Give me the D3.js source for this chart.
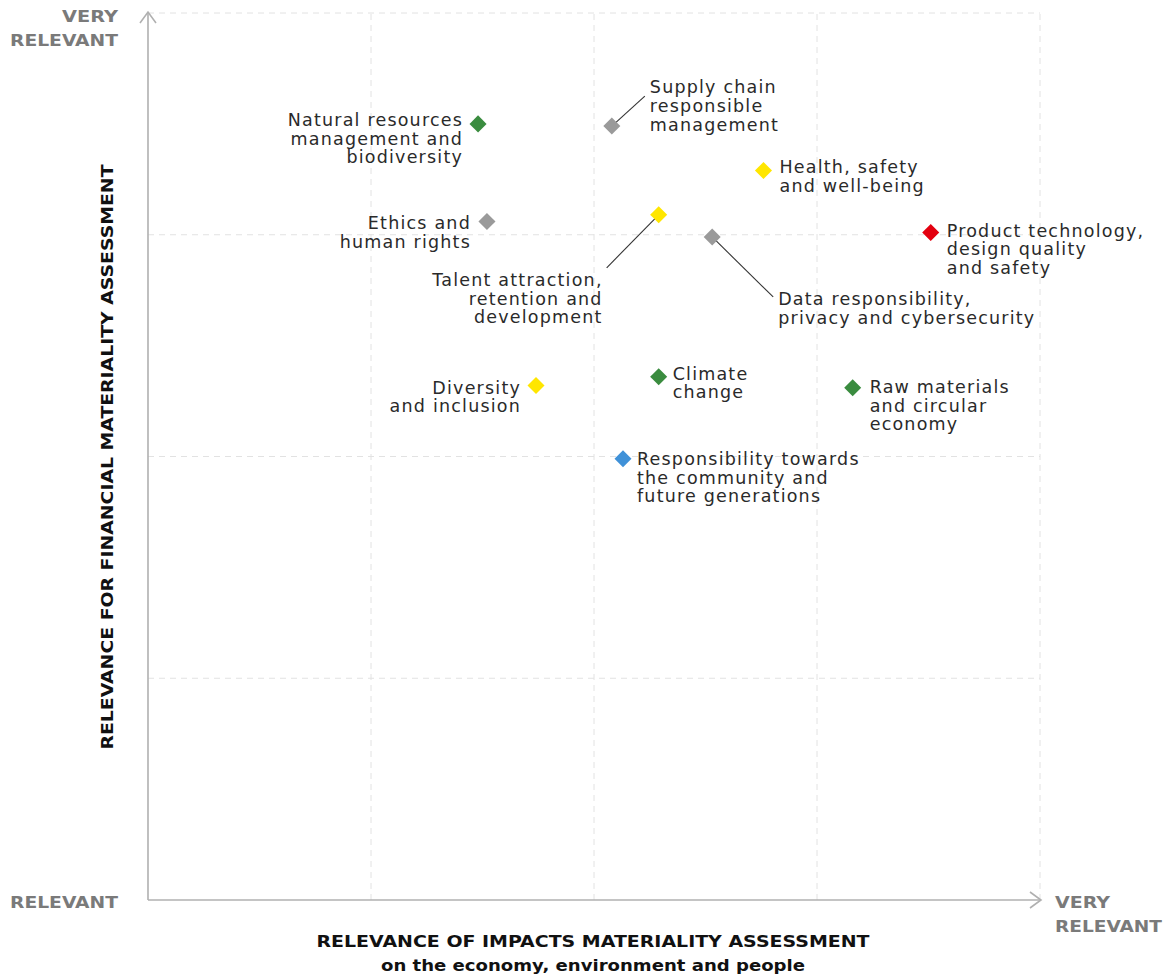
<!DOCTYPE html>
<html>
<head>
<meta charset="utf-8">
<script src="https://cdn.jsdelivr.net/npm/d3@7"></script>
<style>
  html, body { margin: 0; padding: 0; background: #fff; }
  svg { display: block; }
</style>
</head>
<body>
<svg id="chart" width="1167" height="977"></svg>
<script>
// ---- Data ----
const topics = [
  "Natural resources management and biodiversity",
  "Supply chain responsible management",
  "Health, safety and well-being",
  "Ethics and human rights",
  "Talent attraction, retention and development",
  "Data responsibility, privacy and cybersecurity",
  "Product technology, design quality and safety",
  "Diversity and inclusion",
  "Climate change",
  "Raw materials and circular economy",
  "Responsibility towards the community and future generations"
];
const labelLines = [
  ["Natural resources", "management and", "biodiversity"],
  ["Supply chain", "responsible", "management"],
  ["Health, safety", "and well-being"],
  ["Ethics and", "human rights"],
  ["Talent attraction,", "retention and", "development"],
  ["Data responsibility,", "privacy and cybersecurity"],
  ["Product technology,", "design quality", "and safety"],
  ["Diversity", "and inclusion"],
  ["Climate", "change"],
  ["Raw materials", "and circular", "economy"],
  ["Responsibility towards", "the community and", "future generations"]
];
// Relevance of impacts (x) and financial relevance (y), scale 0-4
const impactValues    = [1.48, 2.08, 2.76, 1.52, 2.29, 2.53, 3.51, 1.74, 2.29, 3.16, 2.13];
const financialValues = [3.50, 3.49, 3.29, 3.06, 3.09, 2.99, 3.01, 2.32, 2.36, 2.31, 1.99];
const topicGroup = ["environment", "governance", "social", "governance", "social", "governance",
                    "product", "social", "environment", "environment", "community"];
const gridTicks = [0, 1, 2, 3, 4];

// ---- Styles / layout ----
const groupColor = {
  environment: "#3a8c3f",
  governance: "#9a9a9a",
  social: "#ffe600",
  product: "#e3000f",
  community: "#3f91d8"
};
// label placement: anchor, dx, dy (first line centre), optional leader end
const labelLayout = [
  { anchor: "end",   dx: -15, dy: -4 },
  { anchor: "start", dx: 38,  dy: -39, leader: [33, -30] },
  { anchor: "start", dx: 16,  dy: -3 },
  { anchor: "end",   dx: -16, dy: 2 },
  { anchor: "end",   dx: -56, dy: 65, leader: [-52, 53] },
  { anchor: "start", dx: 66,  dy: 62, leader: [61, 60] },
  { anchor: "start", dx: 16,  dy: -2 },
  { anchor: "end",   dx: -15, dy: 2 },
  { anchor: "start", dx: 14,  dy: -3 },
  { anchor: "start", dx: 17,  dy: -1 },
  { anchor: "start", dx: 14,  dy: 0 }
];
const lineH = 18.8;

const svg = d3.select("#chart");
const margin = { left: 148, right: 127, top: 13, bottom: 77 };
const W = 1167, H = 977;
const x = d3.scaleLinear().domain([0, 4]).range([margin.left, W - margin.right]);
const y = d3.scaleLinear().domain([0, 4]).range([H - margin.bottom, margin.top]);

// grid
const grid = svg.append("g");
grid.selectAll("line.v").data(gridTicks.slice(1)).join("line")
  .attr("x1", d => x(d)).attr("x2", d => x(d))
  .attr("y1", y(0)).attr("y2", y(4))
  .attr("stroke", "#e2e2e2").attr("stroke-width", 1).attr("stroke-dasharray", "6,5");
grid.selectAll("line.h").data(gridTicks.slice(1)).join("line")
  .attr("y1", d => y(d)).attr("y2", d => y(d))
  .attr("x1", x(0)).attr("x2", x(4))
  .attr("stroke", "#e2e2e2").attr("stroke-width", 1).attr("stroke-dasharray", "6,5");

// axes with arrows
const axisColor = "#b0b0b0";
const ax = svg.append("g").attr("stroke", axisColor).attr("stroke-width", 1.6).attr("fill", "none");
ax.append("line").attr("x1", x(0)).attr("x2", x(0)).attr("y1", y(0)).attr("y2", y(4) - 1);
ax.append("path").attr("d", `M${x(0) - 8},${y(4) + 10} L${x(0)},${y(4) - 1} L${x(0) + 8},${y(4) + 10}`);
ax.append("line").attr("x1", x(0)).attr("x2", x(4) + 1).attr("y1", y(0)).attr("y2", y(0));
ax.append("path").attr("d", `M${x(4) - 10},${y(0) - 8} L${x(4) + 1},${y(0)} L${x(4) - 10},${y(0) + 8}`);

// axis end labels
const endFont = "'DejaVu Sans', sans-serif";
const endLbl = svg.append("g").attr("fill", "#7a7a7a").attr("font-family", endFont)
  .attr("font-weight", "bold").attr("font-size", 16);
const endSpec = [
  { t: "VERY", x: 118, y: 22, a: "end", w: 56 },
  { t: "RELEVANT", x: 118, y: 46, a: "end", w: 108 },
  { t: "RELEVANT", x: 118, y: 908, a: "end", w: 108 },
  { t: "VERY", x: 1055, y: 908, a: "start", w: 55 },
  { t: "RELEVANT", x: 1055, y: 932, a: "start", w: 107 }
];
endSpec.forEach(s => endLbl.append("text").attr("x", s.x).attr("y", s.y)
  .attr("text-anchor", s.a).attr("textLength", s.w).attr("lengthAdjust", "spacingAndGlyphs").text(s.t));

// axis titles
svg.append("text").attr("x", 593).attr("y", 947).attr("text-anchor", "middle")
  .attr("font-family", endFont).attr("font-weight", "bold").attr("font-size", 15.5)
  .attr("fill", "#111").attr("textLength", 553).attr("lengthAdjust", "spacingAndGlyphs")
  .text("RELEVANCE OF IMPACTS MATERIALITY ASSESSMENT");
svg.append("text").attr("x", 593).attr("y", 971).attr("text-anchor", "middle")
  .attr("font-family", endFont).attr("font-weight", "bold").attr("font-size", 15.5)
  .attr("fill", "#111").attr("textLength", 424).attr("lengthAdjust", "spacingAndGlyphs")
  .text("on the economy, environment and people");
svg.append("text").attr("transform", "translate(113,457) rotate(-90)").attr("text-anchor", "middle")
  .attr("font-family", endFont).attr("font-weight", "bold").attr("font-size", 15.5)
  .attr("fill", "#111").attr("textLength", 585).attr("lengthAdjust", "spacingAndGlyphs")
  .text("RELEVANCE FOR FINANCIAL MATERIALITY ASSESSMENT");

// points
const pts = topics.map((t, i) => ({
  name: t, lines: labelLines[i], vx: impactValues[i], vy: financialValues[i],
  color: groupColor[topicGroup[i]], lay: labelLayout[i]
}));

// leader lines
svg.append("g").selectAll("line").data(pts.filter(d => d.lay.leader)).join("line")
  .attr("x1", d => x(d.vx)).attr("y1", d => y(d.vy))
  .attr("x2", d => x(d.vx) + d.lay.leader[0]).attr("y2", d => y(d.vy) + d.lay.leader[1])
  .attr("stroke", "#333").attr("stroke-width", 1.1);

// diamonds
svg.append("g").selectAll("path").data(pts).join("path")
  .attr("transform", d => `translate(${x(d.vx)},${y(d.vy)}) rotate(45)`)
  .attr("d", d3.symbol().type(d3.symbolSquare).size(145))
  .attr("fill", d => d.color);

// labels
const lbl = svg.append("g").attr("font-family", "'DejaVu Sans', sans-serif")
  .attr("font-size", 17.5).attr("letter-spacing", 1.2).attr("fill", "#2a2a2a");
pts.forEach(d => {
  const t = lbl.append("text")
    .attr("text-anchor", d.lay.anchor)
    .attr("x", x(d.vx) + d.lay.dx)
    .attr("y", y(d.vy) + d.lay.dy)
    .attr("dominant-baseline", "central");
  d.lines.forEach((ln, j) => {
    t.append("tspan").attr("x", x(d.vx) + d.lay.dx)
      .attr("dy", j === 0 ? 0 : lineH).text(ln);
  });
});
</script>
</body>
</html>
